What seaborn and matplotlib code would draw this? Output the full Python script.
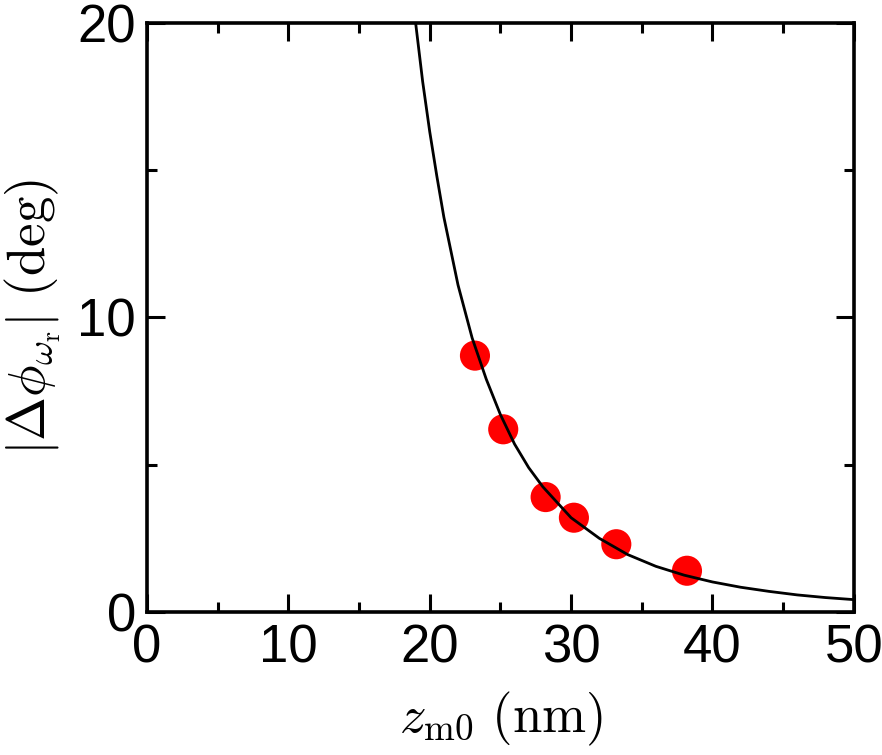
import numpy as np
import pandas as pd
import matplotlib
matplotlib.use('Agg')
import matplotlib.pyplot as plt
import seaborn as sns

# puntos medidos
z_meas = [23.2, 25.2, 28.2, 30.2, 33.2, 38.2]
dphi_meas = [8.7, 6.2, 3.9, 3.2, 2.3, 1.4]

# curva
z_fit = [19.0, 19.5, 20.0, 20.5, 21.0, 22.0, 23.0, 24.0, 25.0, 26.0, 27.0, 28.0,
         30.0, 32.0, 34.0, 36.0, 38.0, 40.0, 42.0, 44.0, 46.0, 48.0, 50.0]
dphi_fit = [20.0, 18.0, 16.3, 14.8, 13.4, 11.1, 9.3, 7.9, 6.7, 5.7, 4.9, 4.25,
            3.2, 2.5, 1.95, 1.55, 1.25, 1.02, 0.84, 0.70, 0.58, 0.49, 0.42]

df_meas = pd.DataFrame({'z': z_meas, 'dphi': dphi_meas})
df_fit = pd.DataFrame({'z': z_fit, 'dphi': dphi_fit})

sns.set_style('ticks', {'axes.edgecolor': 'black', 'text.color': 'black',
                        'xtick.color': 'black', 'ytick.color': 'black',
                        'axes.labelcolor': 'black'})
plt.rcParams['font.family'] = ['Liberation Sans', 'DejaVu Sans']
plt.rcParams['mathtext.fontset'] = 'cm'

fig = plt.figure(figsize=(8.82, 7.55), dpi=100)
ax = fig.add_axes([0.1667, 0.1894, 0.8013, 0.7806])

sns.lineplot(data=df_fit, x='z', y='dphi', color='black', linewidth=2.0,
             ax=ax, zorder=3)
sns.scatterplot(data=df_meas, x='z', y='dphi', color='#ff0000', s=470,
                edgecolor='none', ax=ax, zorder=2)

ax.set_xlim(0, 50)
ax.set_ylim(0, 20)
ax.set_xticks([0, 10, 20, 30, 40, 50])
ax.set_xticks([5, 15, 25, 35, 45], minor=True)
ax.set_yticks([0, 10, 20])
ax.set_yticks([5, 15], minor=True)

for s in ax.spines.values():
    s.set_linewidth(2.6)
    s.set_color('black')
    s.set_visible(True)
ax.tick_params(which='both', direction='in', top=True, right=True, width=2.2,
               labelsize=38, pad=8, colors='black')
ax.tick_params(which='major', length=13)
ax.tick_params(which='minor', length=7)

ax.set_xlabel(r'$z_{\rm m0}\ (\rm nm)$', fontsize=38, labelpad=12, color='black')
ax.set_ylabel(r'$\left|\Delta\phi_{\omega_{\rm r}}\right|\ (\rm deg)$',
              fontsize=38, labelpad=10, color='black')

fig.savefig('out.png', dpi=100)
